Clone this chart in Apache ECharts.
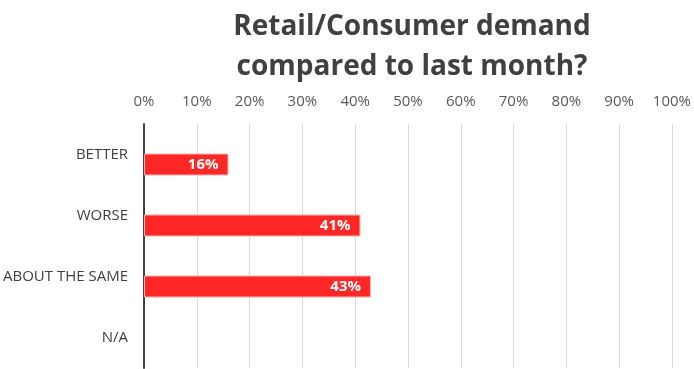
<!DOCTYPE html>
<html><head><meta charset="utf-8">
<script src="https://cdn.jsdelivr.net/npm/echarts@6/dist/echarts.min.js"></script>
<style>html,body{margin:0;padding:0;background:#fff}#c{width:694px;height:369px}</style>
</head><body><div id="c"></div>
<script>
var categories = ['BETTER', 'WORSE', 'ABOUT THE SAME', 'N/A'];
var values = [16, 41, 43, null];
var blank = [null, null, null, null];
var tickMin = 0, tickMax = 100, tickStep = 10;

var chart = echarts.init(document.getElementById('c'), null, {renderer: 'canvas'});
chart.setOption({
  animation: false,
  title: {
    text: 'Retail/Consumer demand\ncompared to last month?',
    left: 407, top: 2, textAlign: 'center',
    textStyle: {fontFamily: 'Open Sans', fontWeight: 'bold', fontSize: 28, color: '#404040', lineHeight: 40}
  },
  grid: {left: 143, right: 18, top: 124, bottom: 1, containLabel: false},
  xAxis: {
    type: 'value', position: 'top', min: tickMin, max: tickMax, interval: tickStep,
    axisLabel: {formatter: '{value}%', color: '#595959', fontFamily: 'Open Sans', fontSize: 15, margin: 15},
    axisLine: {show: false}, axisTick: {show: false},
    splitLine: {lineStyle: {color: '#d9d9d9', width: 1}}
  },
  yAxis: {
    type: 'category', data: categories, inverse: true,
    axisLine: {show: true, lineStyle: {color: '#404040', width: 2}},
    axisTick: {show: false},
    axisLabel: {color: '#404040', fontFamily: 'Open Sans', fontSize: 15, margin: 16}
  },
  series: [
    {type: 'bar', data: blank, barWidth: 22, barGap: '-9%'},
    {type: 'bar', data: values, barWidth: 22,
     itemStyle: {color: '#ff2626', borderColor: '#ffb3b3', borderWidth: 1},
     label: {show: true, position: 'insideRight', formatter: '{c}%', color: '#fff', fontWeight: 'bold', fontFamily: 'Open Sans', fontSize: 15, distance: 10}}
  ]
});
</script></body></html>
